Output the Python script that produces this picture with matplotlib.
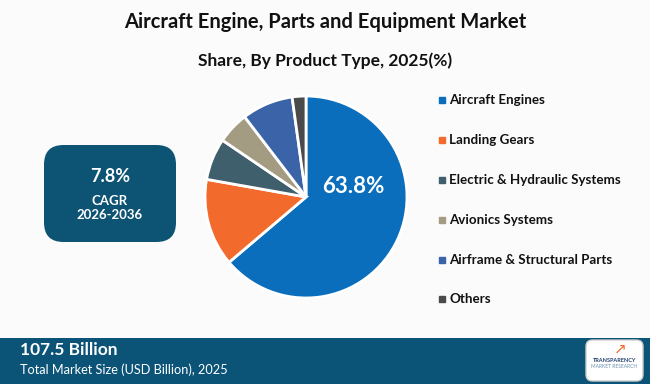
import matplotlib.pyplot as plt
from matplotlib.patches import FancyBboxPatch, Rectangle

# data
labels = ['Aircraft Engines', 'Landing Gears', 'Electric & Hydraulic Systems',
          'Avionics Systems', 'Airframe & Structural Parts', 'Others']
shares = [63.8, 14.0, 6.7, 5.1, 8.2, 2.2]
colors = ['#0A6EBD', '#F26A2C', '#3F5F6C', '#A39B82', '#3A63A8', '#4A4A4A']

plt.rcParams['font.family'] = ['Lato', 'DejaVu Sans']

W, H = 650, 384
fig = plt.figure(figsize=(6.5, 3.84), dpi=100)
fig.patch.set_facecolor('#FBFBFB')


def fx(x):
    return x / W


def fy(y):
    return 1 - y / H


fig.text(fx(325), fy(22), 'Aircraft Engine, Parts and Equipment Market',
         ha='center', va='center', fontsize=14.5, fontweight='bold', color='#111111')
fig.text(fx(325), fy(61), 'Share, By Product Type, 2025(%)',
         ha='center', va='center', fontsize=12.5, fontweight='bold', color='#111111')

# pie
cx, cy, r = 306, 197, 103
ax = fig.add_axes([fx(cx - r), fy(cy + r), 2 * r / W, 2 * r / H])
wedges, _ = ax.pie(shares, colors=colors, startangle=90, counterclock=False,
                   wedgeprops=dict(edgecolor='white', linewidth=2))
ax.set_xlim(-1.02, 1.02)
ax.set_ylim(-1.02, 1.02)
ax.set_aspect('equal')
ax.text(0.47, 0.1, '63.8%', ha='center', va='center', fontsize=16,
        fontweight='bold', color='white')

# legend
ly = [100, 140, 180, 220, 260, 299]
for lab, c, y in zip(labels, colors, ly):
    fig.patches.append(Rectangle((fx(439), fy(y + 3)), 6 / W, 6 / H, color=c,
                                 transform=fig.transFigure))
    fig.text(fx(449), fy(y), lab, ha='left', va='center', fontsize=9.6,
             fontweight='bold', color='#111111')

# CAGR box
box = FancyBboxPatch((fx(44), fy(242)), 132 / W, 97 / H,
                     boxstyle='round,pad=0,rounding_size=0.03',
                     transform=fig.transFigure, facecolor='#0D5474',
                     edgecolor='none', mutation_aspect=W / H)
fig.patches.append(box)
fig.text(fx(110), fy(177), '7.8%', ha='center', va='center', fontsize=13,
         fontweight='bold', color='white')
fig.text(fx(110), fy(201), 'CAGR', ha='center', va='center', fontsize=9.5,
         fontweight='bold', color='white')
fig.text(fx(110), fy(215), '2026-2036', ha='center', va='center', fontsize=9.5,
         fontweight='bold', color='white')

# footer
fig.patches.append(Rectangle((0, 0), 1, 46 / H, transform=fig.transFigure,
                             facecolor='#0B5478', edgecolor='none'))
fig.text(fx(20), fy(350), '107.5 Billion', ha='left', va='center', fontsize=12.5,
         fontweight='bold', color='white')
fig.text(fx(20), fy(370), 'Total Market Size (USD Billion), 2025', ha='left',
         va='center', fontsize=9.2, color='white')

logo = FancyBboxPatch((fx(586), fy(381)), 57 / W, 41 / H,
                      boxstyle='round,pad=0,rounding_size=0.01',
                      transform=fig.transFigure, facecolor='white',
                      edgecolor='#cccccc', mutation_aspect=W / H)
fig.patches.append(logo)
fig.text(fx(614.5), fy(360), 'TRANSPARENCY', ha='center', va='center',
         fontsize=4, fontweight='bold', color='#1F3F6E')
fig.text(fx(614.5), fy(366), 'MARKET RESEARCH', ha='center', va='center',
         fontsize=3.5, color='#6A8FB0')
fig.text(fx(620), fy(349), '\u2197', ha='center', va='center', fontsize=11,
         color='#F26A2C', family='DejaVu Sans')

fig.savefig('out.png', dpi=100, facecolor=fig.get_facecolor())
